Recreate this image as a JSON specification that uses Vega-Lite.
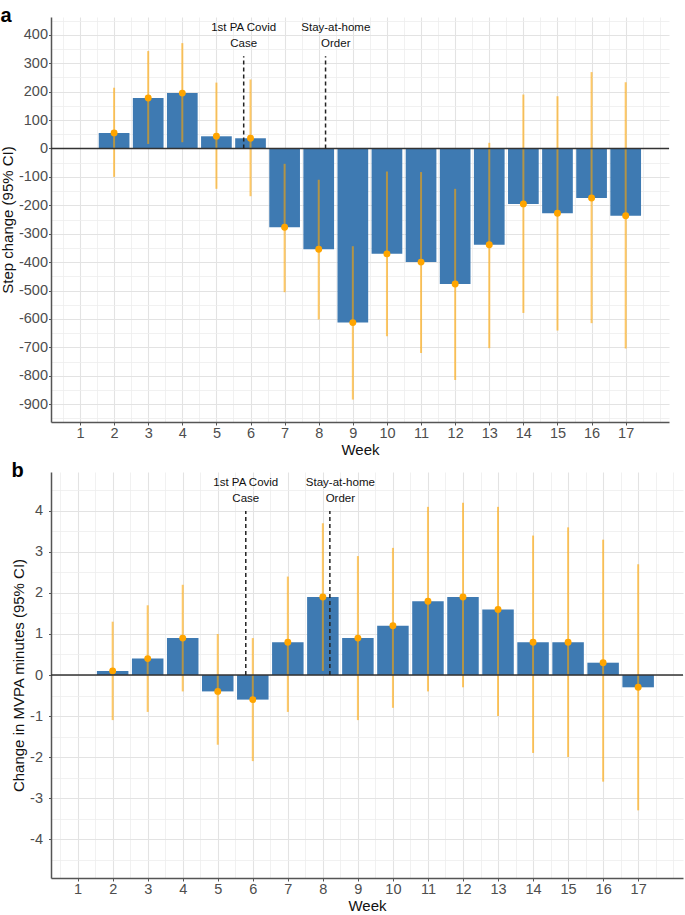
{
  "$schema": "https://vega.github.io/schema/vega-lite/v6.json",
  "padding": {"left": 0, "top": 6, "right": 0, "bottom": 0},
  "spacing": 3,
  "config": {
    "view": {"stroke": null},
    "font": "Liberation Sans",
    "locale": {"number": {"decimal": ".", "thousands": ",", "grouping": [3], "currency": ["$", ""], "minus": "-"}},
    "axis": {
      "labelFont": "Liberation Sans",
      "titleFont": "Liberation Sans",
      "labelFontSize": 14.5,
      "labelColor": "#4d4d4d",
      "labelOverlap": false,
      "titleFontSize": 15,
      "titleFontWeight": "normal",
      "titleColor": "#111111",
      "domainColor": "#555555",
      "domainWidth": 1.5,
      "tickColor": "#555555",
      "tickWidth": 1,
      "tickSize": 3,
      "gridColor": "#e3e3e3",
      "gridWidth": 1.1
    },
    "title": {"font": "Liberation Sans", "color": "#000000"}
  },
  "datasets": {
    "a": [
      {"week": 2, "est": 55, "lo": -100, "hi": 214},
      {"week": 3, "est": 178, "lo": 16, "hi": 343},
      {"week": 4, "est": 195, "lo": 22, "hi": 371},
      {"week": 5, "est": 43, "lo": -142, "hi": 232},
      {"week": 6, "est": 36, "lo": -168, "hi": 243},
      {"week": 7, "est": -277, "lo": -506, "hi": -54},
      {"week": 8, "est": -355, "lo": -602, "hi": -110},
      {"week": 9, "est": -613, "lo": -884, "hi": -344},
      {"week": 10, "est": -371, "lo": -661, "hi": -81},
      {"week": 11, "est": -400, "lo": -720, "hi": -83},
      {"week": 12, "est": -477, "lo": -815, "hi": -142},
      {"week": 13, "est": -339, "lo": -703, "hi": 20},
      {"week": 14, "est": -195, "lo": -579, "hi": 190},
      {"week": 15, "est": -228, "lo": -641, "hi": 184},
      {"week": 16, "est": -174, "lo": -615, "hi": 269},
      {"week": 17, "est": -237, "lo": -704, "hi": 233}
    ],
    "b": [
      {"week": 2, "est": 0.1, "lo": -1.1, "hi": 1.3},
      {"week": 3, "est": 0.4, "lo": -0.9, "hi": 1.7},
      {"week": 4, "est": 0.9, "lo": -0.4, "hi": 2.2},
      {"week": 5, "est": -0.4, "lo": -1.7, "hi": 1.0},
      {"week": 6, "est": -0.6, "lo": -2.1, "hi": 0.9},
      {"week": 7, "est": 0.8, "lo": -0.9, "hi": 2.4},
      {"week": 8, "est": 1.9, "lo": 0.1, "hi": 3.7},
      {"week": 9, "est": 0.9, "lo": -1.1, "hi": 2.9},
      {"week": 10, "est": 1.2, "lo": -0.8, "hi": 3.1},
      {"week": 11, "est": 1.8, "lo": -0.4, "hi": 4.1},
      {"week": 12, "est": 1.9, "lo": -0.3, "hi": 4.2},
      {"week": 13, "est": 1.6, "lo": -1.0, "hi": 4.1},
      {"week": 14, "est": 0.8, "lo": -1.9, "hi": 3.4},
      {"week": 15, "est": 0.8, "lo": -2.0, "hi": 3.6},
      {"week": 16, "est": 0.3, "lo": -2.6, "hi": 3.3},
      {"week": 17, "est": -0.3, "lo": -3.3, "hi": 2.7}
    ],
    "ann_a": [
      {"x": 5.8, "y": 425, "label": "1st PA Covid"},
      {"x": 5.8, "y": 368, "label": "Case"},
      {"x": 8.5, "y": 425, "label": "Stay-at-home"},
      {"x": 8.5, "y": 368, "label": "Order"}
    ],
    "ann_b": [
      {"x": 5.8, "y": 4.69, "label": "1st PA Covid"},
      {"x": 5.8, "y": 4.28, "label": "Case"},
      {"x": 8.5, "y": 4.69, "label": "Stay-at-home"},
      {"x": 8.5, "y": 4.28, "label": "Order"}
    ],
    "vl_a": [
      {"x": 5.8, "y1": 0, "y2": 325},
      {"x": 8.2, "y1": 0, "y2": 325}
    ],
    "vl_b": [
      {"x": 5.8, "y1": 0, "y2": 4.0},
      {"x": 8.2, "y1": 0, "y2": 4.0}
    ],
    "zero": [{"z": 0}]
  },
  "vconcat": [
    {
      "width": 618,
      "height": 405,
      "title": {"text": "a", "anchor": "start", "frame": "bounds", "fontSize": 20, "fontWeight": "bold", "offset": -9},
      "resolve": {"axis": {"x": "independent", "y": "independent"}},
      "layer": [
        {
          "data": {"name": "a"},
          "mark": {"type": "point", "opacity": 0},
          "encoding": {
            "x": {
              "field": "week", "type": "quantitative",
              "scale": {"domain": [0.15, 18.27], "nice": false, "zero": false, "padding": 0},
              "axis": {"orient": "bottom", "title": null, "values": [0.5, 1.5, 2.5, 3.5, 4.5, 5.5, 6.5, 7.5, 8.5, 9.5, 10.5, 11.5, 12.5, 13.5, 14.5, 15.5, 16.5, 17.5, 18], "labels": false, "ticks": false, "domain": false, "grid": true, "gridColor": "#eeeeee", "gridWidth": 0.8}
            },
            "y": {
              "field": "est", "type": "quantitative",
              "scale": {"domain": [-963, 463], "nice": false, "zero": false, "padding": 0},
              "axis": {"orient": "left", "title": null, "values": [-950, -850, -750, -650, -550, -450, -350, -250, -150, -50, 50, 150, 250, 350, 450], "labels": false, "ticks": false, "domain": false, "grid": true, "gridColor": "#eeeeee", "gridWidth": 0.8}
            }
          }
        },
        {
          "data": {"name": "a"},
          "mark": {"type": "bar", "size": 30.7, "color": "#3e7ab2"},
          "encoding": {
            "x": {
              "field": "week", "type": "quantitative",
              "axis": {
                "orient": "bottom",
                "title": "Week",
                "values": [1, 2, 3, 4, 5, 6, 7, 8, 9, 10, 11, 12, 13, 14, 15, 16, 17],
                "format": "d",
                "grid": true,
                "labelPadding": 1,
                "titlePadding": 3
              }
            },
            "y": {
              "field": "est", "type": "quantitative",
              "axis": {
                "orient": "left",
                "title": "Step change (95% CI)",
                "values": [-900, -800, -700, -600, -500, -400, -300, -200, -100, 0, 100, 200, 300, 400],
                "format": "d",
                "grid": true,
                "tickSize": 2.5,
                "labelPadding": 1,
                "titlePadding": 3
              }
            }
          }
        },
        {
          "data": {"name": "a"},
          "mark": {"type": "rule", "color": "#FFA500", "opacity": 0.6, "strokeWidth": 2},
          "encoding": {
            "x": {"field": "week", "type": "quantitative", "axis": null},
            "y": {"field": "lo", "type": "quantitative", "axis": null},
            "y2": {"field": "hi"}
          }
        },
        {
          "data": {"name": "a"},
          "mark": {"type": "point", "filled": true, "color": "#FFA500", "opacity": 1, "size": 48},
          "encoding": {
            "x": {"field": "week", "type": "quantitative", "axis": null},
            "y": {"field": "est", "type": "quantitative", "axis": null}
          }
        },
        {
          "data": {"name": "zero"},
          "mark": {"type": "rule", "color": "#333333", "strokeWidth": 1.3},
          "encoding": {"y": {"field": "z", "type": "quantitative", "axis": null}}
        },
        {
          "data": {"name": "vl_a"},
          "mark": {"type": "rule", "color": "#222222", "strokeWidth": 1.5, "strokeDash": [4, 3]},
          "encoding": {
            "x": {"field": "x", "type": "quantitative", "axis": null},
            "y": {"field": "y1", "type": "quantitative", "axis": null},
            "y2": {"field": "y2"}
          }
        },
        {
          "data": {"name": "ann_a"},
          "mark": {"type": "text", "fontSize": 11.5, "color": "#111111", "baseline": "middle", "align": "center", "font": "Liberation Sans"},
          "encoding": {
            "x": {"field": "x", "type": "quantitative", "axis": null},
            "y": {"field": "y", "type": "quantitative", "axis": null},
            "text": {"field": "label"}
          }
        }
      ]
    },
    {
      "width": 632,
      "height": 406,
      "title": {"text": "b", "anchor": "start", "frame": "bounds", "fontSize": 20, "fontWeight": "bold", "offset": -9},
      "resolve": {"axis": {"x": "independent", "y": "independent"}},
      "layer": [
        {
          "data": {"name": "b"},
          "mark": {"type": "point", "opacity": 0},
          "encoding": {
            "x": {
              "field": "week", "type": "quantitative",
              "scale": {"domain": [0.24, 18.28], "nice": false, "zero": false, "padding": 0},
              "axis": {"orient": "bottom", "title": null, "values": [0.5, 1.5, 2.5, 3.5, 4.5, 5.5, 6.5, 7.5, 8.5, 9.5, 10.5, 11.5, 12.5, 13.5, 14.5, 15.5, 16.5, 17.5, 18], "labels": false, "ticks": false, "domain": false, "grid": true, "gridColor": "#eeeeee", "gridWidth": 0.8}
            },
            "y": {
              "field": "est", "type": "quantitative",
              "scale": {"domain": [-4.95, 4.95], "nice": false, "zero": false, "padding": 0},
              "axis": {"orient": "left", "title": null, "values": [-4.5, -3.5, -2.5, -1.5, -0.5, 0.5, 1.5, 2.5, 3.5, 4.5], "labels": false, "ticks": false, "domain": false, "grid": true, "gridColor": "#eeeeee", "gridWidth": 0.8}
            }
          }
        },
        {
          "data": {"name": "b"},
          "mark": {"type": "bar", "size": 31.5, "color": "#3e7ab2"},
          "encoding": {
            "x": {
              "field": "week", "type": "quantitative",
              "axis": {
                "orient": "bottom",
                "title": "Week",
                "values": [1, 2, 3, 4, 5, 6, 7, 8, 9, 10, 11, 12, 13, 14, 15, 16, 17],
                "format": "d",
                "grid": true,
                "labelPadding": 1,
                "titlePadding": 3
              }
            },
            "y": {
              "field": "est", "type": "quantitative",
              "axis": {
                "orient": "left",
                "title": "Change in MVPA minutes (95% CI)",
                "values": [-4, -3, -2, -1, 0, 1, 2, 3, 4],
                "format": "d",
                "grid": true,
                "tickSize": 2.5,
                "labelPadding": 6,
                "titlePadding": 3
              }
            }
          }
        },
        {
          "data": {"name": "b"},
          "mark": {"type": "rule", "color": "#FFA500", "opacity": 0.6, "strokeWidth": 2},
          "encoding": {
            "x": {"field": "week", "type": "quantitative", "axis": null},
            "y": {"field": "lo", "type": "quantitative", "axis": null},
            "y2": {"field": "hi"}
          }
        },
        {
          "data": {"name": "b"},
          "mark": {"type": "point", "filled": true, "color": "#FFA500", "opacity": 1, "size": 48},
          "encoding": {
            "x": {"field": "week", "type": "quantitative", "axis": null},
            "y": {"field": "est", "type": "quantitative", "axis": null}
          }
        },
        {
          "data": {"name": "zero"},
          "mark": {"type": "rule", "color": "#333333", "strokeWidth": 1.3},
          "encoding": {"y": {"field": "z", "type": "quantitative", "axis": null}}
        },
        {
          "data": {"name": "vl_b"},
          "mark": {"type": "rule", "color": "#222222", "strokeWidth": 1.5, "strokeDash": [4, 3]},
          "encoding": {
            "x": {"field": "x", "type": "quantitative", "axis": null},
            "y": {"field": "y1", "type": "quantitative", "axis": null},
            "y2": {"field": "y2"}
          }
        },
        {
          "data": {"name": "ann_b"},
          "mark": {"type": "text", "fontSize": 11.5, "color": "#111111", "baseline": "middle", "align": "center", "font": "Liberation Sans"},
          "encoding": {
            "x": {"field": "x", "type": "quantitative", "axis": null},
            "y": {"field": "y", "type": "quantitative", "axis": null},
            "text": {"field": "label"}
          }
        }
      ]
    }
  ]
}
